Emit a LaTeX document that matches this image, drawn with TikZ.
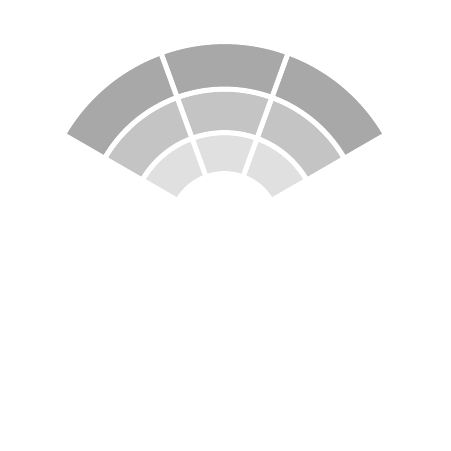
\documentclass[tikz,border=0pt]{standalone}
\definecolor{outergray}{RGB}{168,168,168}
\definecolor{middlegray}{RGB}{196,196,196}
\definecolor{innergray}{RGB}{224,224,224}
\tikzset{
  piece/.style={draw=white, line width=5pt, line join=miter},
  ringinner/.style={piece, fill=innergray},
  ringmiddle/.style={piece, fill=middlegray},
  ringouter/.style={piece, fill=outergray}
}
\newcommand\fanpiece[5]{%
  \path[#1] ([shift={(224.5,223.4)}]#2:#4) arc[start angle=#2,end angle=#3,radius=#4]
    -- ([shift={(224.5,223.4)}]#3:#5) arc[start angle=#3,end angle=#2,radius=#5] -- cycle;}
\begin{document}
\begin{tikzpicture}[x=1pt,y=1pt]
\useasboundingbox[fill=white] (0,0) rectangle (451,451);
\foreach \a/\b in {30/70,70/110,110/150}{
  \fanpiece{ringinner}{\a}{\b}{54}{95}
  \fanpiece{ringmiddle}{\a}{\b}{95}{138.5}
  \fanpiece{ringouter}{\a}{\b}{138.5}{186}
}
\end{tikzpicture}
\end{document}
